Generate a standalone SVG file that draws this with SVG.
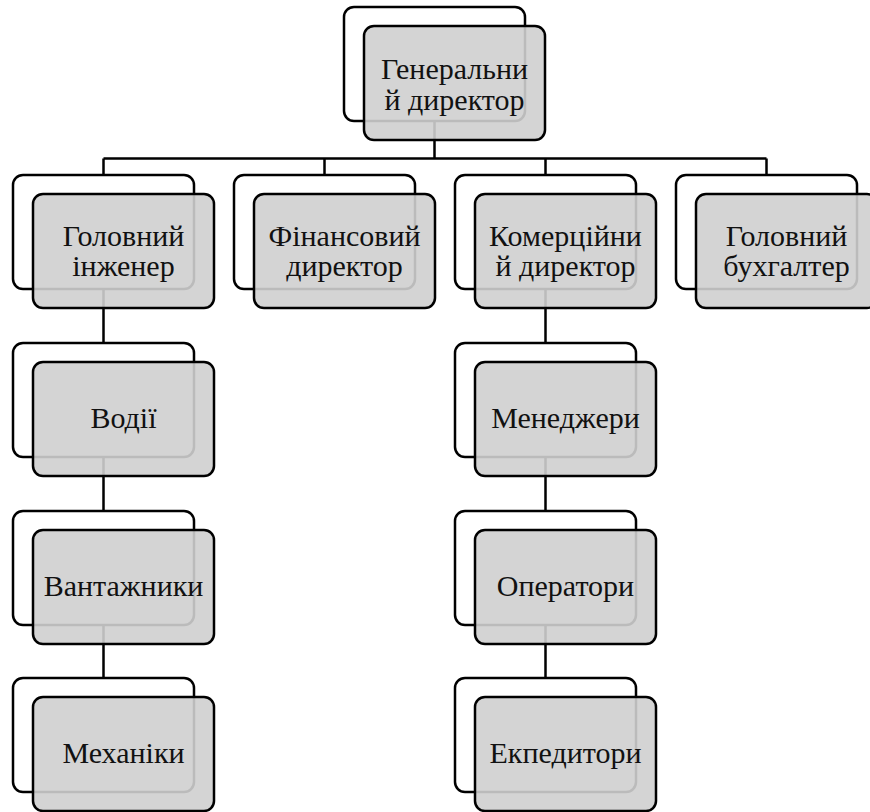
<svg xmlns="http://www.w3.org/2000/svg" width="870" height="812" viewBox="0 0 870 812">
<style>
.back{fill:#fff;stroke:#000;stroke-width:2.5}
.front{fill:#cfcfcf;fill-opacity:0.9;stroke:#000;stroke-width:2.5}
.conn{fill:none;stroke:#000;stroke-width:2.5}
.t{font-family:'Liberation Serif','Times New Roman',serif;font-size:30px;fill:#111;text-anchor:middle}
</style>
<rect width="870" height="812" fill="#fff"/>
<g id="backs">
<rect class="back" x="344" y="7" width="181" height="114" rx="10"/>
<rect class="back" x="13" y="175" width="181" height="114" rx="10"/>
<rect class="back" x="234" y="175" width="181" height="114" rx="10"/>
<rect class="back" x="455" y="175" width="181" height="114" rx="10"/>
<rect class="back" x="676" y="175" width="181" height="114" rx="10"/>
<rect class="back" x="13" y="343" width="181" height="114" rx="10"/>
<rect class="back" x="13" y="511" width="181" height="114" rx="10"/>
<rect class="back" x="13" y="678" width="181" height="114" rx="10"/>
<rect class="back" x="455" y="343" width="181" height="114" rx="10"/>
<rect class="back" x="455" y="511" width="181" height="114" rx="10"/>
<rect class="back" x="455" y="678" width="181" height="114" rx="10"/>
</g>
<g id="connectors">
<path class="conn" d="M434.5 121V158.5M103.5 158.5H766.5M103.5 158.5V175M324.5 158.5V175M545.5 158.5V175M766.5 158.5V175"/>
<path class="conn" d="M103.5 289V343M103.5 457V511M103.5 625V678"/>
<path class="conn" d="M545.5 289V343M545.5 457V511M545.5 625V678"/>
</g>
<g id="n-gen">
<rect class="front" x="364" y="26" width="181" height="114" rx="10"/>
<text class="t" x="454.5" y="79">Генеральни</text>
<text class="t" x="454.5" y="110">й директор</text>
</g>
<g id="n-eng">
<rect class="front" x="33" y="194" width="181" height="114" rx="10"/>
<text class="t" x="123.5" y="246">Головний</text>
<text class="t" x="123.5" y="276">інженер</text>
</g>
<g id="n-fin">
<rect class="front" x="254" y="194" width="181" height="114" rx="10"/>
<text class="t" x="344.5" y="246">Фінансовий</text>
<text class="t" x="344.5" y="276">директор</text>
</g>
<g id="n-com">
<rect class="front" x="475" y="194" width="181" height="114" rx="10"/>
<text class="t" x="565.5" y="246">Комерційни</text>
<text class="t" x="565.5" y="276">й директор</text>
</g>
<g id="n-acc">
<rect class="front" x="696" y="194" width="181" height="114" rx="10"/>
<text class="t" x="786.5" y="246">Головний</text>
<text class="t" x="786.5" y="276">бухгалтер</text>
</g>
<g id="n-drivers">
<rect class="front" x="33" y="362" width="181" height="114" rx="10"/>
<text class="t" x="123.5" y="428">Водії</text>
</g>
<g id="n-loaders">
<rect class="front" x="33" y="530" width="181" height="114" rx="10"/>
<text class="t" x="123.5" y="596">Вантажники</text>
</g>
<g id="n-mech">
<rect class="front" x="33" y="697" width="181" height="114" rx="10"/>
<text class="t" x="123.5" y="763">Механіки</text>
</g>
<g id="n-man">
<rect class="front" x="475" y="362" width="181" height="114" rx="10"/>
<text class="t" x="565.5" y="428">Менеджери</text>
</g>
<g id="n-op">
<rect class="front" x="475" y="530" width="181" height="114" rx="10"/>
<text class="t" x="565.5" y="596">Оператори</text>
</g>
<g id="n-exp">
<rect class="front" x="475" y="697" width="181" height="114" rx="10"/>
<text class="t" x="565.5" y="763">Екпедитори</text>
</g>
</svg>
